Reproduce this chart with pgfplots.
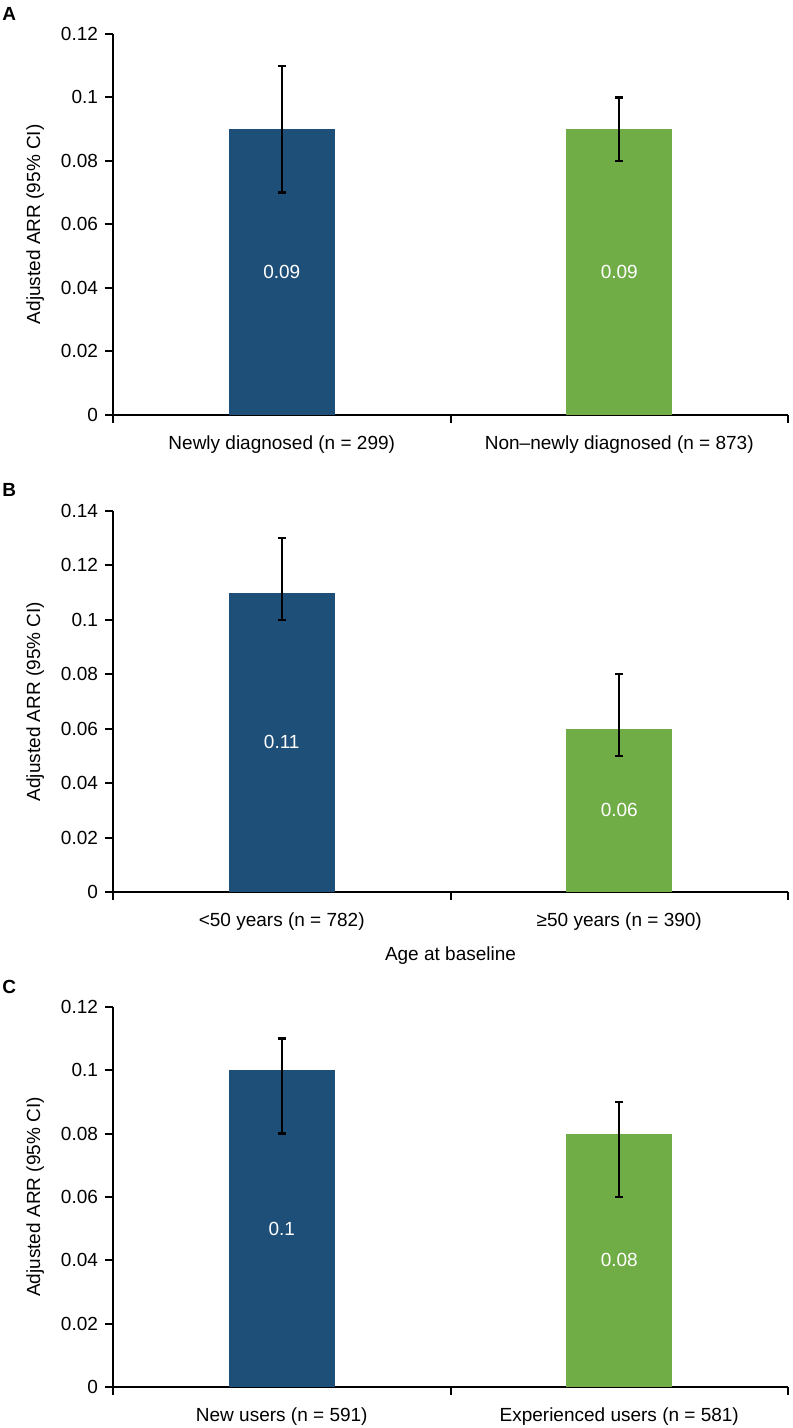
\documentclass[border=0pt]{standalone}
\usepackage{fontspec}
\setmainfont{Liberation Sans}
\usepackage{pgfplots}
\pgfplotsset{compat=1.18}
\definecolor{barblue}{HTML}{1D4F78}
\definecolor{bargreen}{HTML}{70AD47}

\pgfplotsset{
    panel/.style={
        scale only axis,
        width=337.5pt,
        axis lines*=left,
        axis line style={line width=1pt, black},
        xmin=-0.5, xmax=1.5, ymin=0,
        xtick={0,1},
        minor xtick={-0.5,0.5,1.5},
        major x tick style={draw=none},
        minor x tick style={line width=1pt, black},
        y tick style={line width=1pt, black},
        major tick length=4pt,
        minor tick length=4pt,
        tick align=outside,
        scaled y ticks=false,
        font=\fontsize{9.5}{11}\selectfont,
        xticklabel style={yshift=-3pt},
        ylabel={Adjusted ARR (95\% CI)},
        ylabel style={at={(axis description cs:-0.108,0.5)}, anchor=base},
        clip=false,
    },
    bluebar/.style={
        ybar, bar shift=0pt, bar width=53pt, fill=barblue, draw=none,
        error bars/.cd, y dir=both, y explicit,
        error bar style={line width=1.2pt, black},
        error mark options={rotate=90, line width=1.2pt, mark size=1.9pt, black},
    },
    greenbar/.style={
        ybar, bar shift=0pt, bar width=53pt, fill=bargreen, draw=none,
        error bars/.cd, y dir=both, y explicit,
        error bar style={line width=1.2pt, black},
        error mark options={rotate=90, line width=1.2pt, mark size=1.9pt, black},
    },
    barlabel/.style={
        draw=none, mark=none, nodes near coords,
        point meta=explicit symbolic,
        every node near coord/.append style={white, anchor=center},
    },
}

\begin{document}
\begin{tikzpicture}
    \useasboundingbox (0,0) rectangle (396pt,-714pt);

    % Panel A
    \node[anchor=north west, inner sep=0, font=\fontsize{9.5}{11}\selectfont\bfseries] at (1pt,-3.5pt) {A};
    \begin{axis}[
        panel,
        at={(56.5pt,-207.25pt)}, anchor=south west,
        height=190.25pt,
        ymax=0.12,
        ytick={0,0.02,0.04,0.06,0.08,0.1,0.12},
        yticklabels={0,0.02,0.04,0.06,0.08,0.1,0.12},
        xticklabels={Newly diagnosed (n = 299), Non–newly diagnosed (n = 873)},
    ]
    \addplot[bluebar] coordinates {(0,0.09) += (0,0.02) -= (0,0.02)};
    \addplot[greenbar] coordinates {(1,0.09) += (0,0.01) -= (0,0.01)};
    \addplot[barlabel] coordinates {(0,0.045) [0.09] (1,0.045) [0.09]};
    \end{axis}

    % Panel B
    \node[anchor=north west, inner sep=0, font=\fontsize{9.5}{11}\selectfont\bfseries] at (1pt,-241.5pt) {B};
    \begin{axis}[
        panel,
        at={(56.5pt,-446pt)}, anchor=south west,
        height=190.5pt,
        ymax=0.14,
        ytick={0,0.02,0.04,0.06,0.08,0.1,0.12,0.14},
        yticklabels={0,0.02,0.04,0.06,0.08,0.1,0.12,0.14},
        xticklabels={<50 years (n = 782), ≥50 years (n = 390)},
        xlabel={Age at baseline},
        xlabel style={at={(axis description cs:0.5,0)}, anchor=center, yshift=-32pt},
    ]
    \addplot[bluebar] coordinates {(0,0.11) += (0,0.02) -= (0,0.01)};
    \addplot[greenbar] coordinates {(1,0.06) += (0,0.02) -= (0,0.01)};
    \addplot[barlabel] coordinates {(0,0.055) [0.11] (1,0.03) [0.06]};
    \end{axis}

    % Panel C
    \node[anchor=north west, inner sep=0, font=\fontsize{9.5}{11}\selectfont\bfseries] at (1pt,-490pt) {C};
    \begin{axis}[
        panel,
        at={(56.5pt,-693.5pt)}, anchor=south west,
        height=190pt,
        ymax=0.12,
        ytick={0,0.02,0.04,0.06,0.08,0.1,0.12},
        yticklabels={0,0.02,0.04,0.06,0.08,0.1,0.12},
        xticklabels={New users (n = 591), Experienced users (n = 581)},
    ]
    \addplot[bluebar] coordinates {(0,0.1) += (0,0.01) -= (0,0.02)};
    \addplot[greenbar] coordinates {(1,0.08) += (0,0.01) -= (0,0.02)};
    \addplot[barlabel] coordinates {(0,0.05) [0.1] (1,0.04) [0.08]};
    \end{axis}
\end{tikzpicture}
\end{document}
